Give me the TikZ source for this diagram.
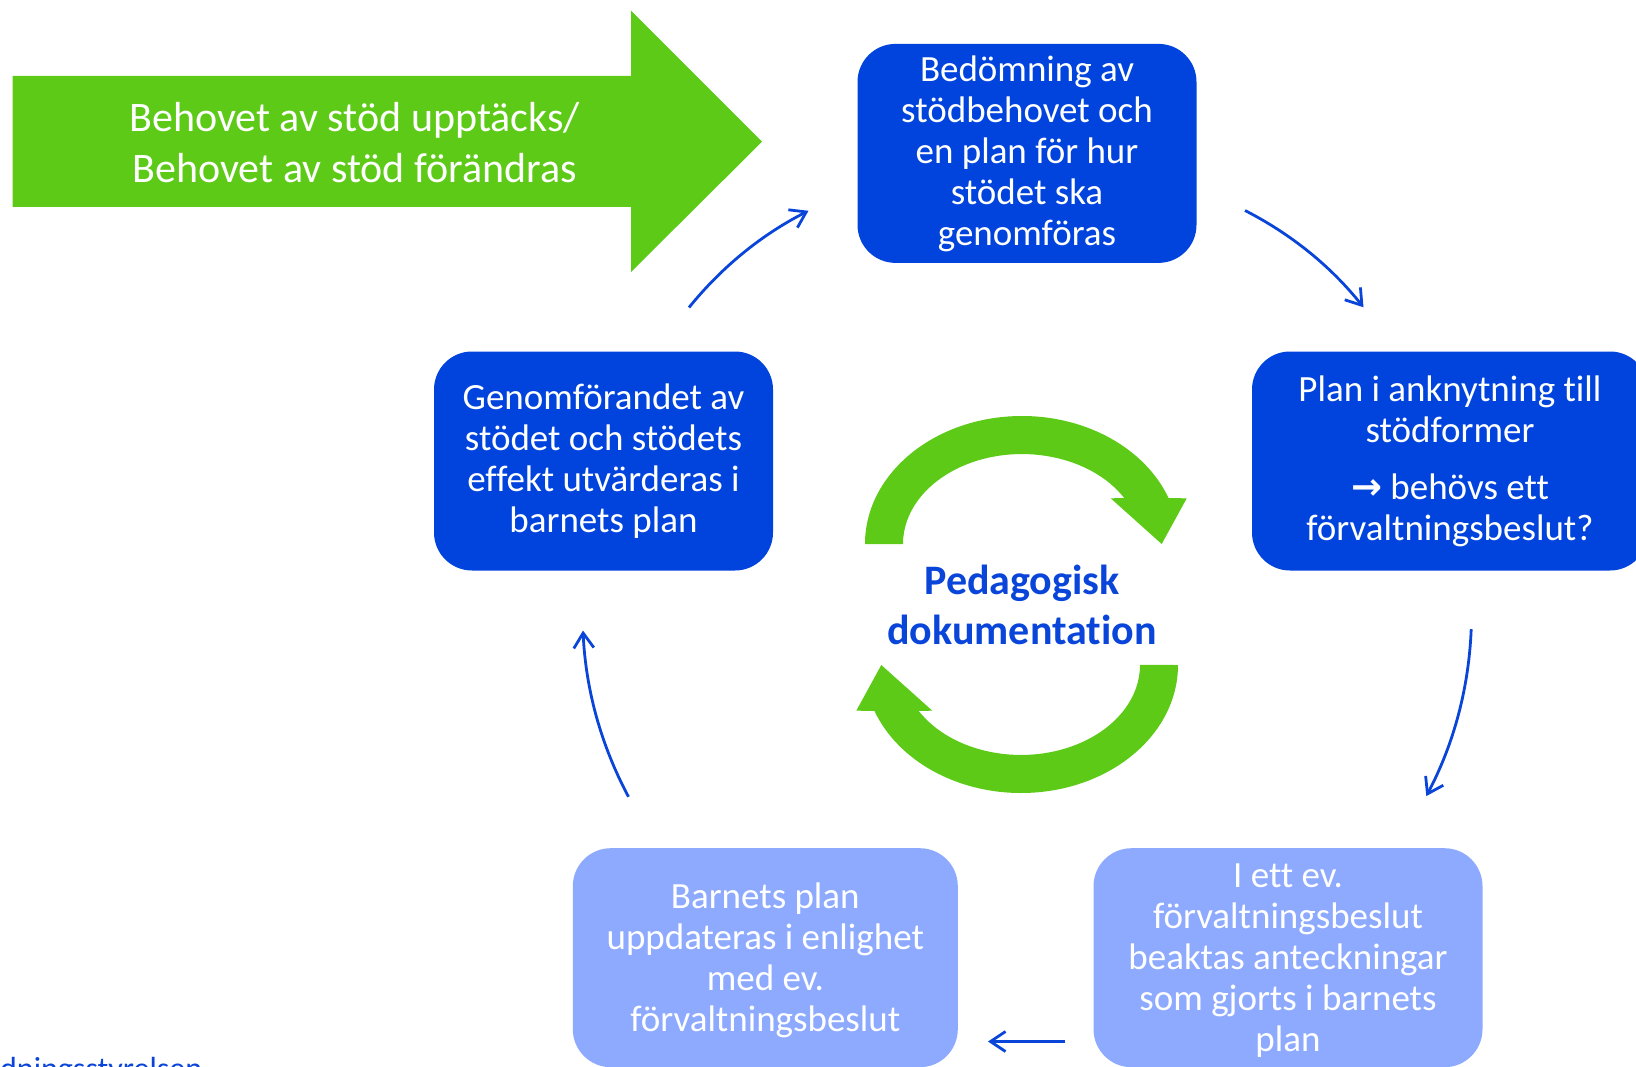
\documentclass[tikz,border=0pt]{standalone}
\usepackage{fontspec}
\setmainfont{Carlito}[Ligatures=NoCommon]
\newfontfamily\arrowfont{DejaVu Sans}
\usetikzlibrary{arrows.meta}
\definecolor{cgreen}{HTML}{5CCA16}
\definecolor{cblue}{HTML}{0044DD}
\definecolor{clight}{HTML}{8EAAFE}
\definecolor{ctext}{HTML}{0A45DA}
\tikzset{
  bluebox/.style={rectangle, rounded corners=38pt, fill=cblue, text=white,
    minimum width=339pt, minimum height=219pt, inner sep=0pt, align=center,
    font=\fontsize{37}{41}\selectfont},
  lightbox/.style={bluebox, fill=clight},
  boxtext/.style={text=white, align=center, font=\fontsize{37}{41}\selectfont, inner sep=0pt},
  link/.style={draw=ctext, line width=2.8pt, -{Straight Barb[length=15pt,width=20pt]}},
}
\begin{document}
\begin{tikzpicture}[x=1pt,y=-1pt]
\useasboundingbox (0,0) rectangle (1636,1067);
\clip (0,0) rectangle (1636,1067);
% big green arrow
\fill[cgreen] (12.5,76) -- (631,76) -- (631,10.7) -- (762,141.7) -- (631,272) -- (631,207) -- (12.5,207) -- cycle;
\node[text=white, align=center, font=\fontsize{42}{51}\selectfont] (trigger) at (354.7,142.5)
  {Behovet av stöd upptäcks/\\Behovet av stöd förändras};
% boxes
\node[bluebox] (assess) at (1027,153.4) {Bedömning av\\stödbehovet och\\en plan för hur\\stödet ska\\genomföras};
\node[bluebox, minimum width=396pt] (plan) at (1450,461) {Plan i anknytning till\\stödformer\\[16pt]{\arrowfont\bfseries →} behövs ett\\förvaltningsbeslut?};
\node[bluebox] (impl) at (603.5,461) {Genomförandet av\\stödet och stödets\\effekt utvärderas i\\barnets plan};
\node[lightbox, minimum width=385pt] (update) at (765.3,957.7) {};
\node[boxtext] (updatetext) at (765.3,960.7) {Barnets plan\\uppdateras i enlighet\\med ev.\\förvaltningsbeslut};
\node[lightbox, minimum width=389pt] (decision) at (1288,957.7) {};
\node[boxtext] (decisiontext) at (1288,960.5) {I ett ev.\\förvaltningsbeslut\\beaktas anteckningar\\som gjorts i barnets\\plan};
% central cycle
\fill[cgreen] (865,544) arc[start angle=180, end angle=339, x radius=157, y radius=128]
  -- (1186.7,498.3) -- (1161.7,544) -- (1110.7,498.3) -- (1124.3,498.1)
  arc[start angle=329.3, end angle=180, x radius=119, y radius=90] -- cycle;
\begin{scope}[rotate around={180:(1021.5,604.5)}]
\fill[cgreen] (865,544) arc[start angle=180, end angle=339, x radius=157, y radius=128]
  -- (1186.7,498.3) -- (1161.7,544) -- (1110.7,498.3) -- (1124.3,498.1)
  arc[start angle=329.3, end angle=180, x radius=119, y radius=90] -- cycle;
\end{scope}
\node[text=ctext, align=center, font=\bfseries\fontsize{42}{50}\selectfont] (ped) at (1022,605) {Pedagogisk\\dokumentation};
% footer
\node[anchor=base west, inner sep=0pt, text=ctext, font=\fontsize{32}{38}\selectfont] (source) at (0,1079) {dningsstyrelsen};
% connectors
\coordinate (s1) at (689,307.5);   \coordinate (e1) at (808.5,210.8);
\coordinate (s2) at (1245,210.5);  \coordinate (e2) at (1363.5,307.3);
\coordinate (s3) at (1471.2,629.2); \coordinate (e3) at (1426.3,796.1);
\coordinate (s4) at (1065.3,1041.5); \coordinate (e4) at (988,1041.5);
\coordinate (s5) at (628.5,796.8); \coordinate (e5) at (583,630.5);
\draw[link] (s1) .. controls (721.9,266.8) and (761.8,234.5) .. (e1);
\draw[link] (s2) .. controls (1291.5,234.3) and (1331,266.5) .. (e2);
\draw[link] (s3) .. controls (1468.8,688.2) and (1453.8,743.9) .. (e3);
\draw[link] (s4) -- (e4);
\draw[link] (s5) .. controls (600.8,744.8) and (585.7,689.3) .. (e5);
\end{tikzpicture}
\end{document}
